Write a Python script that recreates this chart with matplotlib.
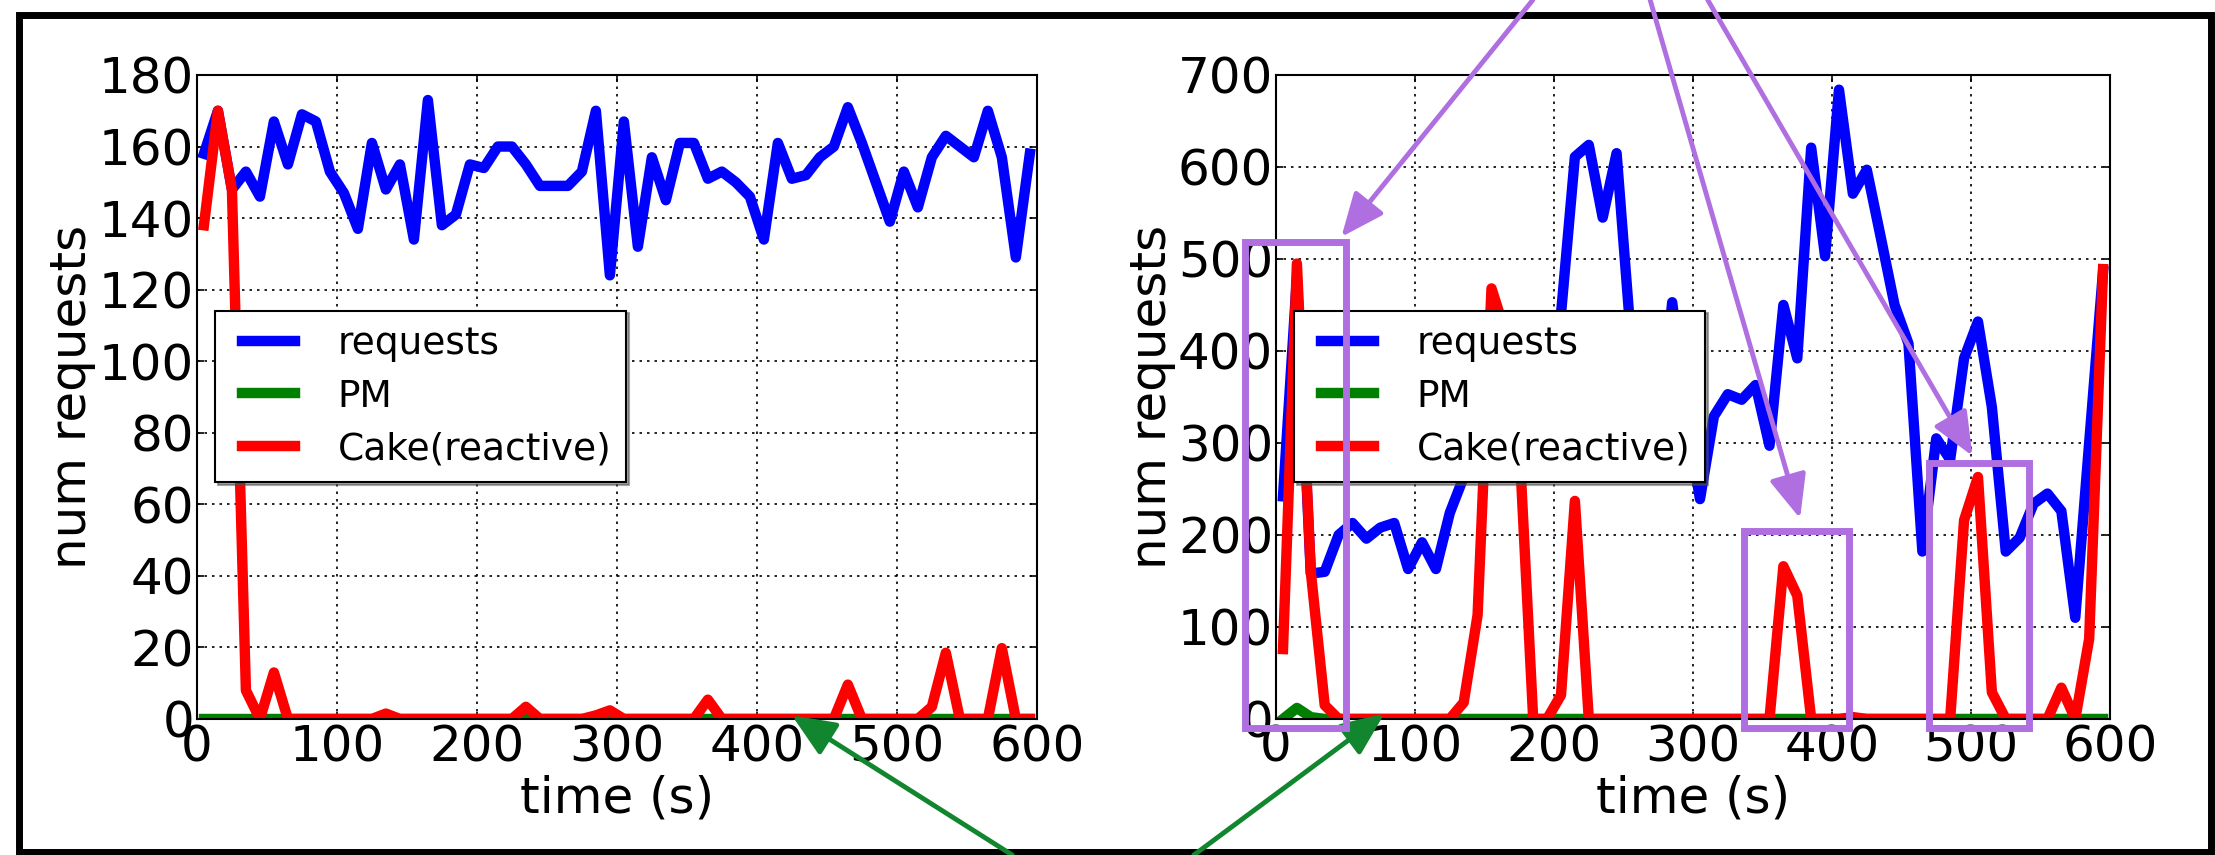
import matplotlib
matplotlib.use("Agg")
import matplotlib.pyplot as plt
from matplotlib.patches import Rectangle

plt.rcParams['font.family'] = ['DejaVu Sans']

# data
##########################################################################
time = list(range(5, 600, 10))

series_labels = ["requests", "PM", "Cake(reactive)"]
series_colors = ["b", "g", "r"]

left_requests = [158, 170, 148, 153, 146, 167, 155, 169, 167, 153,
                 147, 137, 161, 148, 155, 134, 173, 138, 141, 155,
                 154, 160, 160, 155, 149, 149, 149, 153, 170, 124,
                 167, 132, 157, 145, 161, 161, 151, 153, 150, 146,
                 134, 161, 151, 152, 157, 160, 171, 161, 150, 139,
                 153, 143, 157, 163, 160, 157, 170, 157, 129, 158]
left_pm = [0] * 60
left_cake = [138, 170, 148, 8, 0, 13, 0, 0, 0, 0,
             0, 0, 0, 1.5, 0, 0, 0, 0, 0, 0,
             0, 0, 0, 3.4, 0, 0, 0, 0, 1, 2.4,
             0, 0, 0, 0, 0, 0, 5.4, 0, 0, 0,
             0, 0, 0, 0, 0, 0, 9.6, 0, 0, 0,
             0, 0, 3.4, 18.5, 0, 0, 0, 19.8, 0, 0]

right_requests = [242, 480, 158, 160, 200, 213, 196, 208, 213, 163,
                  192, 163, 224, 263, 290, 320, 340, 360, 390, 410,
                  440, 611, 624, 545, 615, 420, 330, 300, 453, 330,
                  239, 329, 353, 347, 363, 297, 450, 392, 621, 503,
                  684, 571, 597, 524, 450, 408, 182, 305, 282, 392,
                  432, 339, 182, 197, 234, 245, 226, 110, 300, 487]
right_pm = [0, 12, 2, 0, 0, 0, 0, 0, 0, 0,
            0, 0, 0, 0, 0, 0, 0, 0, 0, 0,
            0, 0, 0, 0, 0, 0, 0, 0, 0, 0,
            0, 0, 0, 0, 0, 0, 0, 0, 0, 0,
            0, 0, 0, 0, 0, 0, 0, 0, 0, 0,
            0, 0, 0, 0, 0, 0, 0, 0, 0, 0]
right_cake = [76, 495, 160, 15, 0, 0, 0, 0, 0, 0,
              0, 0, 0, 18, 113, 468, 420, 300, 0, 0,
              26, 237, 0, 0, 0, 0, 0, 0, 0, 0,
              0, 0, 0, 0, 0, 0, 166, 134, 0, 0,
              0, 2, 0, 0, 0, 0, 0, 0, 0, 216,
              263, 29, 0, 0, 0, 0, 34, 0, 87, 489]

# highlight boxes on the right panel (time from, time to, top value)
box_t0 = [-22, 337, 470]
box_t1 = [50, 412, 542]
box_top = [518, 204, 278]
box_bottom = -10

# purple arrows: tip (time, value) on right panel, start x at top of figure
purple_tips = [(47, 524), (377, 218), (501, 286)]
purple_starts = [0.692, 0.745, 0.771]

# green arrows: tip on each panel, start x at bottom of figure
green_tips = [(425, 1), (78, 6)]
green_starts = [0.457, 0.539]

purple = "#b06fe0"
green = "#11862f"


def draw_panel(ax, values, ymax, ystep):
    for vals, lab, col in zip(values, series_labels, series_colors):
        ax.plot(time, vals, color=col, lw=7.5, label=lab,
                solid_capstyle="projecting", solid_joinstyle="round")
    ax.set_xlim(0, 600)
    ax.set_ylim(0, ymax)
    ax.set_xticks(range(0, 601, 100))
    ax.set_yticks(range(0, ymax + 1, ystep))
    ax.grid(True, color="k", linestyle=(0, (1.5, 3)), lw=1.2)
    ax.tick_params(direction="in", top=True, right=True, length=5,
                   width=1.2, labelsize=36)
    ax.tick_params(axis="y", pad=2)
    ax.tick_params(axis="x", pad=3.5)
    for sp in ax.spines.values():
        sp.set_linewidth(1.5)
    ax.set_xlabel("time (s)", fontsize=36)
    ax.set_ylabel("num requests", fontsize=36)
    ax.xaxis.set_label_coords(0.5, -0.087)
    ax.yaxis.set_label_coords(-0.12, 0.5)
    leg = ax.legend(loc="upper left", bbox_to_anchor=(0.022, 0.634),
                    borderaxespad=0, fontsize=27, numpoints=2,
                    handlelength=2.03, handletextpad=0.83, borderpad=0.4,
                    labelspacing=0.45, fancybox=False, shadow=True,
                    framealpha=1, edgecolor="k")
    leg.get_frame().set_linewidth(1.5)


fig = plt.figure(figsize=(22.15, 8.55), dpi=100)
ax1 = fig.add_axes([0.0889, 0.1591, 0.3792, 0.7532])
ax2 = fig.add_axes([0.5761, 0.1591, 0.3765, 0.7532])

draw_panel(ax1, [left_requests, left_pm, left_cake], 180, 20)
draw_panel(ax2, [right_requests, right_pm, right_cake], 700, 100)

# frame round the whole picture
fig.add_artist(Rectangle((0.0086, 0.0035), 0.9896, 0.979, transform=fig.transFigure,
                         fill=False, ec="k", lw=5, zorder=-1))

for x0, x1, top in zip(box_t0, box_t1, box_top):
    ax2.add_patch(Rectangle((x0, box_bottom), x1 - x0, top - box_bottom, fill=False,
                            ec=purple, lw=5, clip_on=False, zorder=6))

for tip, sx in zip(purple_tips, purple_starts):
    ax2.annotate("", xy=tip, xycoords="data", xytext=(sx, 1.0),
                 textcoords="figure fraction", annotation_clip=False,
                 arrowprops=dict(arrowstyle="-|>,head_length=0.7,head_width=0.3",
                                 mutation_scale=38, lw=3.5, color=purple,
                                 shrinkA=0, shrinkB=0))

for ax, tip, sx in zip([ax1, ax2], green_tips, green_starts):
    ax.annotate("", xy=tip, xycoords="data", xytext=(sx, 0.0),
                textcoords="figure fraction", annotation_clip=False,
                arrowprops=dict(arrowstyle="-|>,head_length=0.7,head_width=0.3",
                                mutation_scale=38, lw=3.5, color=green,
                                shrinkA=0, shrinkB=0))

fig.savefig("out.png", dpi=100)
